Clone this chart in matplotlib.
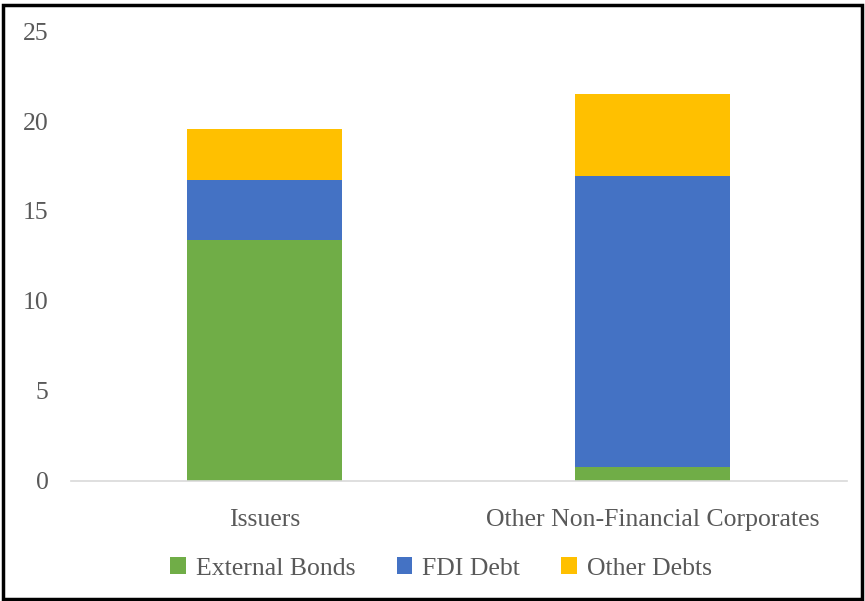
import numpy as np
import matplotlib
matplotlib.use("Agg")
import matplotlib.pyplot as plt
from matplotlib.patches import Rectangle

plt.rcParams['font.family'] = ['Liberation Serif', 'DejaVu Serif']

categories = ["Issuers", "Other Non-Financial Corporates"]
external_bonds = [13.4, 0.8]
fdi_debt = [3.3, 16.15]
other_debts = [2.85, 4.55]

series_names = ["External Bonds", "FDI Debt", "Other Debts"]
colors = ["#70ad47", "#4472c4", "#ffc000"]
text_col = "#595959"

fig = plt.figure(figsize=(8.65, 6.01), dpi=100)
ax = fig.add_axes([0.082, 0.1997, 0.897, 0.7487])

x = np.arange(len(categories))
bottom = np.zeros(len(categories))
for vals, name, c in zip([external_bonds, fdi_debt, other_debts], series_names, colors):
    ax.bar(x, vals, width=0.4, bottom=bottom, color=c, label=name)
    bottom += np.array(vals)

ax.set_xlim(-0.5, 1.5)
ax.set_ylim(0, 25)
ax.set_yticks([0, 5, 10, 15, 20, 25])
ax.set_xticks(x)
ax.set_xticklabels(categories)
ax.tick_params(axis='both', length=0, colors=text_col, labelsize=18.5)
ax.tick_params(axis='y', pad=16)
ax.tick_params(axis='x', pad=20)
for s in ["top", "right", "left"]:
    ax.spines[s].set_visible(False)
ax.spines["bottom"].set_color("#d9d9d9")
ax.spines["bottom"].set_linewidth(1.2)

leg = fig.legend(loc="center", bbox_to_anchor=(0.51, 0.054), ncol=3, frameon=False,
                 fontsize=18.5, handlelength=0.6, handleheight=0.6, handletextpad=0.4,
                 columnspacing=1.6)
for t in leg.get_texts():
    t.set_color(text_col)

# outer frame
fig.patches.append(Rectangle((0.004, 0.004), 0.992, 0.988, transform=fig.transFigure,
                             fill=False, edgecolor="black", linewidth=2.5))

fig.savefig("out.png", dpi=100)
